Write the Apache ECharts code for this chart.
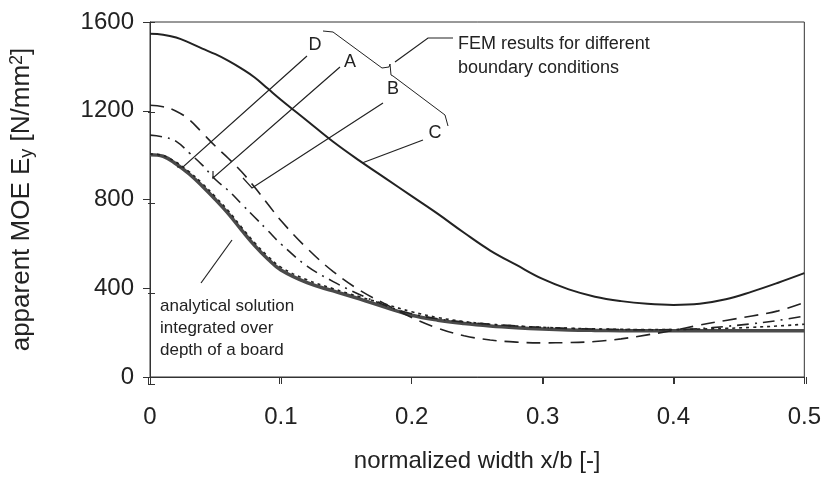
<!DOCTYPE html>
<html><head><meta charset="utf-8">
<script src="https://cdn.jsdelivr.net/npm/echarts@6/dist/echarts.min.js"></script>
<style>html,body{margin:0;padding:0;background:#fff}#c{width:824px;height:478px}</style>
</head><body><div id="c"></div>
<script>
// normalized width x/b
const xs = [0,0.01,0.02,0.03,0.04,0.05,0.06,0.07,0.08,0.09,0.10,0.12,0.14,0.16,0.18,0.20,0.22,0.24,0.26,0.28,0.30,0.32,0.34,0.36,0.38,0.40,0.42,0.44,0.46,0.48,0.50];
// FEM results (apparent MOE, N/mm^2)
const yC = [1547,1543,1530,1507,1480,1455,1425,1390,1350,1300,1250,1155,1060,975,895,815,735,650,570,505,442,395,362,342,330,325,330,350,385,425,468];
const yA = [1225,1218,1198,1160,1100,1040,985,925,855,780,705,580,475,392,328,268,220,186,167,157,154,155,160,172,190,210,234,255,275,298,336];
const yB = [1090,1082,1062,1010,955,890,840,780,720,660,600,500,430,372,322,285,262,248,238,230,224,219,216,214,213,214,218,228,240,255,275];
const yD = [1005,998,968,925,872,812,748,675,605,545,495,438,398,362,328,294,268,250,238,230,224,220,217,215,214,214,216,219,224,230,238];
// analytical solution integrated over depth of a board
const yAnalytical = [1002,995,960,915,860,800,735,662,592,532,482,425,388,352,314,278,256,241,230,222,216,212,210,209,208,208,208,208,208,208,208];
const xTickValues = [0,0.1,0.2,0.3,0.4,0.5];
const yTickValues = [0,400,800,1200,1600];

const pairs = ys => xs.map((x,i)=>[x,ys[i]]);
const FONT = '"Liberation Sans", Arial, sans-serif';
const ink = '#222';

const chart = echarts.init(document.getElementById('c'), null, {renderer:'canvas'});
const gridPos = {left:148, right:18, top:22, bottom:94};
const baseX = {type:'value', min:0, max:0.5, interval:0.1};
const baseY = {type:'value', min:0, max:1600, interval:400};

chart.setOption({
  animation:false,
  backgroundColor:'#fff',
  grid:[
    Object.assign({show:true, borderColor:'#333', borderWidth:1, backgroundColor:'transparent'}, gridPos),
    Object.assign({show:false}, gridPos)
  ],
  xAxis:[
    Object.assign({}, baseX, {
      gridIndex:0,
      name:'normalized width x/b [-]', nameLocation:'middle', nameGap:72,
      nameTextStyle:{fontFamily:FONT, fontSize:24, color:ink},
      axisLine:{show:true, lineStyle:{color:'#333', width:1}},
      axisTick:{show:true, inside:false, length:7, lineStyle:{color:'#333'}},
      axisLabel:{fontFamily:FONT, fontSize:24, color:ink, margin:28,
        formatter: v => { const t = xTickValues.find(t=>Math.abs(t-v)<1e-9); return t===undefined?'':String(t); }},
      splitLine:{show:false}
    }),
    Object.assign({}, baseX, {
      gridIndex:1,
      axisLine:{show:false},
      axisTick:{show:true, inside:true, length:7, lineStyle:{color:'#333'}},
      axisLabel:{show:false}, splitLine:{show:false}
    })
  ],
  yAxis:[
    Object.assign({}, baseY, {
      gridIndex:0,
      name:'apparent MOE E{sub|y} [N/mm{sup|2}]', nameLocation:'middle', nameGap:114, nameRotate:90,
      nameTextStyle:{fontFamily:FONT, fontSize:26, color:ink,
        rich:{
          sub:{fontFamily:FONT, fontSize:18, color:ink, verticalAlign:'bottom', padding:[10,0,0,0]},
          sup:{fontFamily:FONT, fontSize:18, color:ink, verticalAlign:'top', padding:[0,0,10,0]}
        }},
      axisLine:{show:true, lineStyle:{color:'#333', width:1}},
      axisTick:{show:true, inside:false, length:7, lineStyle:{color:'#333'}},
      axisLabel:{fontFamily:FONT, fontSize:24, color:ink, margin:16,
        formatter: v => { const t = yTickValues.find(t=>Math.abs(t-v)<1e-9); return t===undefined?'':String(t); }},
      splitLine:{show:false}
    }),
    Object.assign({}, baseY, {
      gridIndex:1,
      axisLine:{show:false},
      axisTick:{show:true, inside:true, length:7, lineStyle:{color:'#333'}},
      axisLabel:{show:false}, splitLine:{show:false}
    })
  ],
  series:[
    {name:'analytical', type:'line', smooth:0.4, showSymbol:false, data:pairs(yAnalytical),
      lineStyle:{color:'#4a4a4a', width:3.5}, z:2},
    {name:'D', type:'line', smooth:0.4, showSymbol:false, data:pairs(yD),
      lineStyle:{color:'#222', width:1.6, type:[3,4]}, z:3},
    {name:'B', type:'line', smooth:0.4, showSymbol:false, data:pairs(yB),
      lineStyle:{color:'#222', width:1.6, type:[12,6,2,6]}, z:3},
    {name:'A', type:'line', smooth:0.4, showSymbol:false, data:pairs(yA),
      lineStyle:{color:'#222', width:1.6, type:[14,8]}, z:3},
    {name:'C', type:'line', smooth:0.4, showSymbol:false, data:pairs(yC),
      lineStyle:{color:'#222', width:2}, z:3}
  ],
  graphic:[
    // leader lines
    {type:'polyline', shape:{points:[[307,56],[183,167],[177,167]]}, style:{stroke:'#222', lineWidth:1.2, fill:null}, z:10},
    {type:'polyline', shape:{points:[[340,67],[213,178],[213,171]]}, style:{stroke:'#222', lineWidth:1.2, fill:null}, z:10},
    {type:'polyline', shape:{points:[[383,103],[252,188],[243,178]]}, style:{stroke:'#222', lineWidth:1.2, fill:null}, z:10},
    {type:'polyline', shape:{points:[[423,140],[362,163]]}, style:{stroke:'#222', lineWidth:1.2, fill:null}, z:10},
    // brace for FEM results
    {type:'polyline', shape:{points:[[323,31],[333,32],[382,68],[389,67],[390,64],[391,75],[393,76],[445,115],[448,126]]}, style:{stroke:'#222', lineWidth:1, fill:null}, z:10},
    {type:'polyline', shape:{points:[[395,62],[428,38],[453,38]]}, style:{stroke:'#222', lineWidth:1.2, fill:null}, z:10},
    // analytical leader
    {type:'polyline', shape:{points:[[201,283],[232,240]]}, style:{stroke:'#222', lineWidth:1.2, fill:null}, z:10},
    // labels
    {type:'text', x:315, y:45, style:{text:'D', font:'18px '+FONT, fill:ink, align:'center', verticalAlign:'middle'}, z:10},
    {type:'text', x:350, y:62, style:{text:'A', font:'18px '+FONT, fill:ink, align:'center', verticalAlign:'middle'}, z:10},
    {type:'text', x:393, y:89, style:{text:'B', font:'18px '+FONT, fill:ink, align:'center', verticalAlign:'middle'}, z:10},
    {type:'text', x:435, y:133, style:{text:'C', font:'18px '+FONT, fill:ink, align:'center', verticalAlign:'middle'}, z:10},
    {type:'text', x:458, y:44, style:{text:'FEM results for different', font:'18px '+FONT, fill:ink, align:'left', verticalAlign:'middle'}, z:10},
    {type:'text', x:458, y:68, style:{text:'boundary conditions', font:'18px '+FONT, fill:ink, align:'left', verticalAlign:'middle'}, z:10},
    {type:'text', x:160, y:306, style:{text:'analytical solution', font:'17px '+FONT, fill:ink, align:'left', verticalAlign:'middle'}, z:10},
    {type:'text', x:160, y:328, style:{text:'integrated over', font:'17px '+FONT, fill:ink, align:'left', verticalAlign:'middle'}, z:10},
    {type:'text', x:160, y:350, style:{text:'depth of a board', font:'17px '+FONT, fill:ink, align:'left', verticalAlign:'middle'}, z:10}
  ]
});
</script></body></html>
